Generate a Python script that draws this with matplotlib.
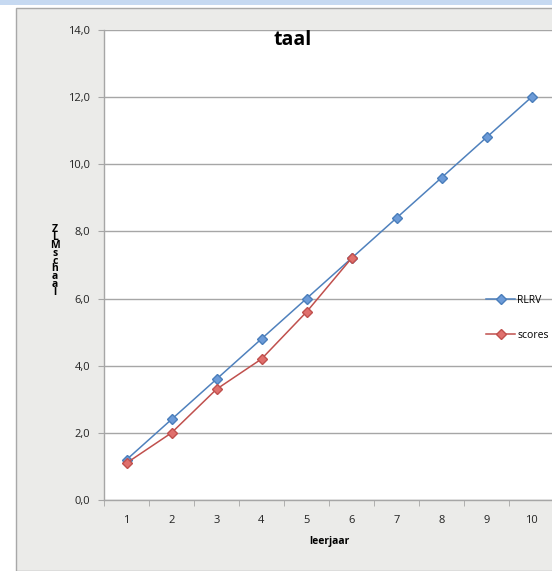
import numpy as np
import matplotlib.pyplot as plt
from matplotlib.patches import Rectangle

# data
leerjaar = [1, 2, 3, 4, 5, 6, 7, 8, 9, 10]
rlrv = [1.2, 2.4, 3.6, 4.8, 6.0, 7.2, 8.4, 9.6, 10.8, 12.0]
scores = [1.1, 2.0, 3.3, 4.2, 5.6, 7.2]
y_ticks = [0, 2, 4, 6, 8, 10, 12, 14]

plt.rcParams['font.family'] = ['Open Sans', 'DejaVu Sans']

W, H = 552, 571
fig = plt.figure(figsize=(W / 100, H / 100), dpi=100)
fig.patch.set_facecolor('white')

# background panel and top bar
fig.patches.append(Rectangle((0, 1 - 5 / H), 1, 5 / H, transform=fig.transFigure,
                             facecolor='#c6d9f1', edgecolor='none', zorder=-5))
fig.patches.append(Rectangle((16 / W, 0), 1, 1 - 8 / H, transform=fig.transFigure,
                             facecolor='#ebebe9', edgecolor='#a8a8a8', linewidth=1, zorder=-5))

ax = fig.add_axes([104 / W, 71 / H, 450 / W, 470 / H])
ax.set_facecolor('white')

ax.plot(leerjaar, rlrv, color='#4f81bd', linewidth=1.1, marker='D', markersize=5,
        markerfacecolor='#6c9bd8', markeredgecolor='#4a7ebb', label='RLRV', zorder=3)
ax.plot(leerjaar[:len(scores)], scores, color='#c0504d', linewidth=1.1, marker='D', markersize=5,
        markerfacecolor='#e0706d', markeredgecolor='#c0504d', label='scores', zorder=3)

ax.set_xlim(0.5, 10.5)
ax.set_ylim(0, 14)
ax.set_yticks(y_ticks)
ax.set_yticklabels(['{:.1f}'.format(v).replace('.', ',') for v in y_ticks])
ax.yaxis.grid(True, color='#a6a6a6', linewidth=1)
ax.set_axisbelow(True)

ax.set_xticks(leerjaar)
ax.set_xticks(np.arange(0.5, 11, 1), minor=True)
ax.tick_params(axis='x', which='major', length=0, pad=11, labelsize=8, colors='#222222')
ax.tick_params(axis='x', which='minor', length=4, color='#a6a6a6', direction='out')
ax.tick_params(axis='y', length=4, color='#a6a6a6', labelsize=8, pad=6, labelcolor='#222222')

for s in ['top', 'right']:
    ax.spines[s].set_visible(False)
for s in ['left', 'bottom']:
    ax.spines[s].set_color('#a6a6a6')
    ax.spines[s].set_linewidth(1)

ax.set_xlabel('leerjaar', fontsize=7.5, fontweight='bold', labelpad=7)

fig.text(293 / W, 1 - 40 / H, 'taal', fontsize=14, fontweight='bold',
         ha='center', va='center')
fig.text(55 / W, 1 - 261 / H, '\n'.join('ZLMschaal'), fontsize=7.5, fontweight='bold',
         ha='center', va='center', linespacing=0.62)

leg = ax.legend(loc='center left', bbox_to_anchor=(486 / W, 1 - 318 / H),
                bbox_transform=fig.transFigure, frameon=False, fontsize=7.5,
                handlelength=2.8, handletextpad=0.2, labelspacing=2.3,
                borderpad=0, borderaxespad=0)

fig.savefig('out.png', dpi=100)
